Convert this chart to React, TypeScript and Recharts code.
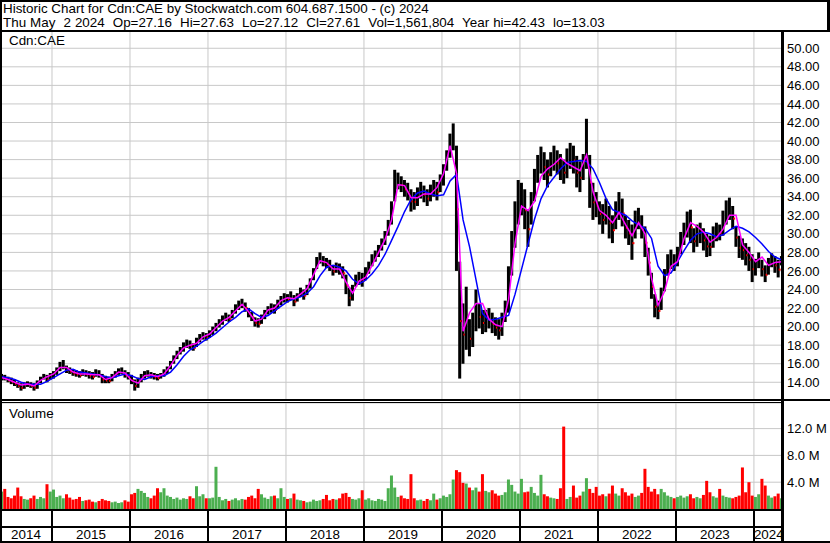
import { ComposedChart, Bar, Line, XAxis, YAxis, CartesianGrid, Cell } from "recharts";

const FONT = "'Liberation Sans', Arial, sans-serif";
const GRID = "#c8c8c8";

// half-month periods, the first one is the 1st half of May 2014
const FIRST = 2014 + 4 / 12;
const LAST = 2024.36;
const years = [2014, 2015, 2016, 2017, 2018, 2019, 2020, 2021, 2022, 2023, 2024];
const yearLines = years.slice(1);
const priceTicks = [14, 16, 18, 20, 22, 24, 26, 28, 30, 32, 34, 36, 38, 40, 42, 44, 46, 48, 50];
const volTicks = [4, 8, 12];

// high / low of each half-month
const high = [
  14.9, 14.8, 14.6, 14.5, 14.3, 14.0, 13.9, 14.0, 14.1, 14.0, 13.9, 14.2, 14.6, 14.9, 14.8, 15.0, // 2014
  15.2, 15.6, 16.2, 16.4, 15.8, 15.6, 15.4, 15.3, 15.2, 15.4, 15.3, 15.2, 15.1, 15.4, 15.3, 14.9, 14.7, 14.6, 14.9, 15.2, 15.5, 15.6, 15.3, 15.1, // 2015
  14.8, 14.3, 14.5, 14.9, 15.2, 15.3, 15.1, 15.0, 14.9, 15.0, 15.4, 15.7, 16.3, 16.9, 17.4, 17.8, 18.3, 18.6, 18.5, 18.2, 18.8, 19.2, 19.4, 19.3, // 2016
  19.6, 20.0, 20.4, 20.8, 21.2, 21.5, 21.3, 21.8, 22.4, 22.8, 23.0, 22.6, 22.0, 21.6, 21.0, 20.9, 21.3, 21.8, 22.2, 22.5, 22.4, 22.9, 23.3, 23.6, // 2017
  23.5, 23.8, 23.4, 23.6, 24.2, 24.0, 24.5, 25.2, 26.3, 27.5, 28.0, 27.6, 27.4, 27.2, 26.6, 26.9, 26.8, 26.5, 25.6, 24.2, 24.5, 25.6, 25.9, 25.8, // 2018
  26.4, 27.0, 27.8, 28.2, 28.8, 29.5, 30.3, 31.5, 33.5, 36.9, 36.6, 36.2, 35.8, 35.5, 34.8, 34.5, 35.0, 35.6, 35.2, 34.8, 35.3, 35.8, 35.6, 36.4, // 2019
  37.5, 39.0, 40.8, 41.9, 39.5, 27.0, 22.5, 24.3, 20.8, 21.5, 24.0, 22.5, 21.8, 21.8, 22.0, 21.5, 21.0, 20.8, 21.5, 22.8, 26.5, 30.3, 33.5, 35.8, // 2020
  35.5, 34.8, 32.6, 34.5, 37.0, 38.5, 39.4, 38.8, 38.0, 38.8, 39.5, 39.0, 38.6, 38.0, 39.2, 39.8, 39.5, 38.4, 37.8, 38.6, 42.4, 38.5, 35.5, 34.5, // 2021
  33.5, 33.2, 33.8, 33.0, 32.0, 33.5, 34.5, 33.8, 32.0, 31.5, 31.0, 32.5, 32.8, 32.0, 30.8, 28.5, 25.8, 23.5, 22.8, 24.2, 26.2, 27.8, 28.3, 27.8, // 2022
  28.6, 30.2, 31.2, 32.4, 32.6, 30.6, 31.0, 31.2, 30.6, 30.0, 29.8, 30.8, 31.2, 31.0, 32.5, 33.6, 33.9, 33.0, 30.8, 29.8, 29.5, 29.0, 28.6, 27.8, // 2023
  27.3, 28.0, 27.2, 26.6, 27.4, 27.9, 27.6, 27.2, 27.6, // 2024
];
const low = [
  14.2, 14.2, 14.0, 13.8, 13.6, 13.4, 13.1, 13.3, 13.5, 13.4, 13.1, 13.3, 13.9, 14.3, 14.0, 14.3, // 2014
  14.4, 14.8, 15.2, 15.4, 15.0, 14.9, 14.7, 14.6, 14.5, 14.7, 14.6, 14.4, 14.3, 14.6, 14.5, 13.9, 13.9, 13.9, 14.1, 14.5, 14.8, 14.9, 14.5, 14.3, // 2015
  13.8, 13.1, 13.4, 14.0, 14.4, 14.6, 14.4, 14.3, 14.2, 14.4, 14.6, 14.9, 15.4, 16.0, 16.5, 17.0, 17.3, 17.7, 17.6, 17.4, 17.8, 18.3, 18.6, 18.5, // 2016
  18.8, 19.1, 19.5, 19.9, 20.2, 20.6, 20.5, 20.9, 21.4, 21.8, 22.0, 21.6, 21.0, 20.6, 20.0, 19.9, 20.3, 20.8, 21.3, 21.5, 21.4, 21.9, 22.3, 22.6, // 2017
  22.6, 22.9, 22.2, 22.7, 23.2, 22.9, 23.4, 24.1, 25.0, 26.2, 26.8, 26.5, 26.3, 26.0, 25.5, 25.8, 25.6, 25.2, 23.5, 22.2, 22.8, 24.3, 24.5, 24.3, // 2018
  25.0, 25.7, 26.5, 27.0, 27.5, 28.2, 28.8, 29.8, 31.0, 33.5, 34.8, 34.5, 34.0, 33.6, 32.4, 32.6, 33.0, 33.8, 33.4, 33.0, 33.5, 34.0, 33.6, 34.5, // 2019
  35.2, 36.8, 38.2, 39.0, 26.0, 14.4, 16.0, 17.5, 16.8, 17.8, 19.5, 19.8, 19.2, 19.4, 19.8, 19.3, 19.0, 18.6, 19.0, 20.5, 21.5, 25.5, 28.5, 31.0, // 2020
  32.0, 30.5, 28.6, 31.0, 33.5, 35.5, 36.5, 35.8, 35.0, 36.2, 36.8, 36.4, 35.8, 35.4, 36.0, 37.0, 36.5, 35.0, 34.5, 35.8, 37.0, 32.8, 31.5, 31.8, // 2021
  31.0, 30.0, 31.0, 29.5, 29.0, 30.5, 31.5, 30.8, 29.5, 28.8, 27.2, 29.5, 30.5, 29.5, 27.5, 25.5, 23.0, 21.0, 20.8, 21.8, 23.8, 25.5, 26.2, 26.0, // 2022
  26.5, 27.8, 28.8, 29.6, 29.0, 28.0, 28.6, 29.0, 28.2, 27.5, 27.6, 28.5, 29.2, 29.3, 29.8, 31.0, 31.5, 30.5, 28.6, 27.4, 27.2, 26.6, 26.0, 24.8, // 2023
  25.5, 26.3, 25.4, 24.8, 25.6, 26.4, 25.8, 25.3, 26.6, // 2024
];
// peak daily volume of each half-month, millions
const volume = [
  2.6, 3.0, 1.8, 1.6, 2.0, 3.2, 1.9, 1.5, 1.4, 1.6, 2.0, 1.5, 1.8, 1.6, 3.7, 2.6, // 2014
  2.9, 1.8, 2.0, 1.6, 2.2, 1.7, 1.4, 1.5, 1.8, 1.2, 1.3, 1.4, 1.1, 1.0, 1.2, 1.5, 1.3, 1.2, 1.0, 1.1, 0.9, 1.0, 1.3, 1.1, // 2015
  2.2, 2.4, 3.0, 2.7, 2.4, 1.8, 1.6, 2.0, 3.1, 2.5, 3.1, 2.0, 1.8, 1.5, 1.7, 1.4, 1.6, 1.5, 1.9, 1.6, 3.4, 1.9, 2.2, 1.6, // 2016
  1.6, 1.7, 6.3, 1.8, 1.3, 1.5, 1.2, 1.4, 1.6, 1.3, 1.5, 1.4, 1.8, 2.0, 1.6, 3.0, 2.2, 1.7, 1.5, 1.9, 2.0, 1.6, 3.1, 1.8, // 2017
  1.5, 1.6, 2.3, 1.4, 1.3, 1.2, 1.0, 1.1, 1.4, 1.2, 1.3, 1.5, 2.1, 1.3, 1.5, 1.4, 1.6, 2.3, 2.4, 1.8, 1.5, 1.4, 1.6, 2.8, // 2018
  1.4, 1.6, 1.3, 1.2, 1.5, 1.4, 1.2, 3.1, 5.0, 3.2, 1.8, 2.0, 1.6, 1.5, 5.2, 1.6, 1.3, 1.4, 1.2, 1.5, 1.3, 2.3, 1.4, 1.6, // 2019
  2.0, 1.8, 2.2, 4.4, 5.8, 5.5, 3.9, 3.8, 3.2, 2.8, 3.2, 2.6, 5.2, 2.7, 2.5, 2.8, 2.3, 2.0, 2.1, 2.5, 4.4, 3.6, 2.6, 2.3, // 2020
  4.5, 2.5, 2.6, 3.3, 2.4, 2.0, 5.1, 2.2, 1.9, 1.7, 1.6, 1.5, 3.1, 12.3, 1.5, 1.8, 3.5, 1.7, 2.0, 2.6, 4.6, 3.0, 2.4, 3.3, // 2021
  2.0, 2.2, 1.9, 2.3, 3.5, 2.3, 2.0, 3.1, 2.5, 2.0, 2.3, 1.8, 2.0, 2.4, 6.0, 3.3, 2.6, 3.0, 2.2, 3.0, 2.5, 2.0, 1.8, 1.6, // 2022
  1.8, 2.0, 1.7, 1.9, 2.2, 1.6, 1.8, 1.6, 2.1, 4.2, 2.5, 1.9, 1.7, 3.0, 2.0, 1.8, 1.7, 1.6, 1.8, 2.0, 6.2, 2.5, 4.0, 2.0, // 2023
  1.8, 2.2, 4.5, 3.5, 2.0, 1.7, 1.9, 2.3, 1.6, // 2024
];
// moving averages read monthly (May 2014 .. May 2024)
const fastAvg = [
  14.5, 14.3, 14.0, 13.7, 13.8, 13.6, 14.2, 14.6,
  14.9, 15.6, 15.6, 15.1, 14.9, 14.9, 14.8, 14.8, 14.3, 14.5, 15.1, 15.0,
  14.2, 13.9, 14.7, 14.8, 14.6, 14.9, 15.8, 16.9, 17.7, 18.0, 18.2, 18.9,
  19.2, 19.9, 20.6, 21.0, 21.7, 22.4, 21.6, 20.6, 20.8, 21.8, 22.0, 22.8,
  23.1, 23.0, 23.5, 24.1, 25.6, 27.1, 26.9, 26.2, 26.2, 24.8, 23.6, 24.9,
  25.3, 26.6, 28.0, 29.4, 31.5, 35.3, 35.2, 33.9, 33.9, 34.3, 34.3, 35.0,
  36.5, 39.5, 36.5, 19.5, 21.5, 22.5, 22.5, 20.8, 20.2, 20.0, 22.9, 29.0,
  33.0, 32.5, 33.5, 36.2, 37.0, 37.5, 38.2, 37.6, 37.2, 36.8, 38.5, 34.5,
  32.5, 32.0, 31.2, 32.3, 31.0, 29.8, 31.2, 30.0, 25.2, 22.3, 23.8, 26.5,
  27.0, 29.5, 31.2, 30.8, 30.2, 29.1, 29.6, 30.5, 32.0, 32.0, 28.8, 28.0,
  27.0, 27.5, 26.6, 26.9, 27.0,
];
const slowAvg = [
  14.6, 14.5, 14.3, 14.0, 13.8, 13.8, 13.8, 14.1,
  14.5, 14.9, 15.3, 15.4, 15.1, 15.0, 14.9, 14.8, 14.6, 14.5, 14.7, 14.9,
  14.7, 14.4, 14.3, 14.6, 14.7, 14.7, 15.1, 15.9, 16.8, 17.5, 17.9, 18.4,
  18.8, 19.3, 19.9, 20.5, 21.0, 21.6, 21.9, 21.4, 21.0, 21.2, 21.7, 22.2,
  22.7, 23.0, 23.2, 23.6, 24.3, 25.5, 26.4, 26.6, 26.4, 26.0, 25.1, 24.6,
  25.0, 25.7, 26.6, 27.8, 29.3, 30.8, 32.4, 33.7, 34.4, 34.6, 34.3, 34.1,
  34.2, 35.7, 36.4, 31.5, 28.6, 25.0, 21.4, 20.7, 20.8, 21.0, 21.2, 23.5,
  26.2, 28.9, 31.6, 33.8, 35.2, 36.1, 37.0, 37.7, 37.8, 37.9, 37.8, 37.0,
  35.5, 33.8, 32.6, 32.3, 32.0, 31.4, 31.0, 30.6, 29.5, 26.5, 25.5, 25.8,
  27.0, 28.2, 29.3, 30.0, 30.2, 30.0, 29.7, 29.9, 30.4, 30.8, 30.6, 30.2,
  29.6, 28.9, 28.1, 27.5, 27.2,
];

const rows = high.map((h, i) => {
  const mid = (h + low[i]) / 2;
  const prev = i > 0 ? (high[i - 1] + low[i - 1]) / 2 : mid;
  return {
    t: FIRST + (i + 0.5) / 24,
    range: [low[i], h],
    vol: volume[i],
    up: mid >= prev,
    fast: i % 2 === 0 ? fastAvg[i / 2] : null,
    slow: i % 2 === 0 ? slowAvg[i / 2] : null,
  };
});

const W = 830;
const PLOT_W = 782;
const xOf = (t: number) => ((Math.min(Math.max(t, FIRST), LAST) - FIRST) / (LAST - FIRST)) * PLOT_W;

const tickStyle = { fontSize: 13, fill: "#000", fontFamily: FONT };
const textStyle = { position: "absolute" as const, fontSize: 13.4, lineHeight: "13.5px", whiteSpace: "pre" as const };

function Rule({ left, top, width, height }: { left: number; top: number; width: number; height: number }) {
  return <div style={{ position: "absolute", left, top, width, height, background: "#000" }} />;
}

// black high-low bar with a small red close mark on down periods
function HiLoBar(props: any) {
  const { x, y, width, height, payload } = props;
  return (
    <g>
      <rect x={x} y={y} width={width} height={Math.max(height, 1)} fill="#000" />
      {!payload.up && <rect x={x + width - 1} y={y + height / 2} width={2} height={2} fill="#ff0000" />}
    </g>
  );
}

export default function App() {
  return (
    <div style={{ position: "absolute", left: 0, top: 0, width: W, height: 543, background: "#fff", fontFamily: FONT, color: "#000", overflow: "hidden" }}>
      <div style={{ ...textStyle, left: 3, top: 1.5 }}>
        Historic Chart for Cdn:CAE by Stockwatch.com 604.687.1500 - (c) 2024
      </div>
      <div style={{ ...textStyle, left: 3, top: 15.5, wordSpacing: 0.3 }}>
        {"Thu May  2 2024  Op=27.16  Hi=27.63  Lo=27.12  Cl=27.61  Vol=1,561,804  Year hi=42.43  lo=13.03"}
      </div>

      <div style={{ position: "absolute", left: 0, top: 31 }}>
        <ComposedChart width={W} height={369} data={rows} margin={{ top: 0, right: 0, bottom: 0, left: 0 }}>
          <CartesianGrid stroke={GRID} strokeWidth={1} />
          <XAxis type="number" dataKey="t" domain={[FIRST, LAST]} ticks={yearLines} allowDataOverflow hide />
          <YAxis
            orientation="right"
            width={48}
            domain={[12.09, 51.86]}
            ticks={priceTicks}
            interval={0}
            allowDataOverflow
            axisLine={false}
            tickLine={false}
            tickSize={3}
            tickMargin={2}
            tick={tickStyle}
            tickFormatter={(v: number) => v.toFixed(2)}
          />
          <Bar dataKey="range" fill="#000" barSize={3} shape={HiLoBar} isAnimationActive={false} />
          <Line dataKey="slow" stroke="#0000ff" strokeWidth={1.5} dot={false} connectNulls isAnimationActive={false} />
          <Line dataKey="fast" stroke="#ff00ff" strokeWidth={1.5} dot={false} connectNulls isAnimationActive={false} />
        </ComposedChart>
      </div>

      <div style={{ position: "absolute", left: 0, top: 403 }}>
        <ComposedChart width={W} height={106} data={rows} margin={{ top: 0, right: 0, bottom: 0, left: 0 }}>
          <CartesianGrid stroke={GRID} strokeWidth={1} />
          <XAxis type="number" dataKey="t" domain={[FIRST, LAST]} ticks={yearLines} allowDataOverflow hide />
          <YAxis
            orientation="right"
            width={48}
            domain={[0, 15.82]}
            ticks={volTicks}
            interval={0}
            allowDataOverflow
            axisLine={false}
            tickLine={false}
            tickSize={3}
            tickMargin={2}
            tick={tickStyle}
            tickFormatter={(v: number) => `${v.toFixed(1)} M`}
          />
          <Bar dataKey="vol" barSize={3} isAnimationActive={false}>
            {rows.map((r, i) => (
              <Cell key={i} fill={r.up ? "#4caf50" : "#ff0000"} />
            ))}
          </Bar>
        </ComposedChart>
      </div>

      <div style={{ ...textStyle, left: 9, top: 34 }}>Cdn:CAE</div>
      <div style={{ ...textStyle, left: 9, top: 406.5 }}>Volume</div>

      {years.map((y) => (
        <div
          key={y}
          style={{
            ...textStyle,
            left: xOf(y),
            width: xOf(y + 1) - xOf(y),
            top: 527.5,
            textAlign: "center",
          }}
        >
          {y}
        </div>
      ))}
      {yearLines.map((y) => (
        <Rule key={y} left={Math.round(xOf(y)) - 1} top={509} width={2} height={34} />
      ))}

      <Rule left={0} top={0} width={W} height={2} />
      <Rule left={0} top={30} width={W} height={2} />
      <Rule left={0} top={0} width={2} height={543} />
      <Rule left={827} top={0} width={3} height={32} />
      <Rule left={781} top={30} width={3} height={513} />
      <Rule left={0} top={399} width={W} height={2} />
      <Rule left={0} top={402} width={PLOT_W} height={1} />
      <Rule left={0} top={509} width={PLOT_W} height={2} />
      <Rule left={0} top={526} width={PLOT_W} height={2} />
      <Rule left={0} top={541} width={W} height={2} />
    </div>
  );
}
